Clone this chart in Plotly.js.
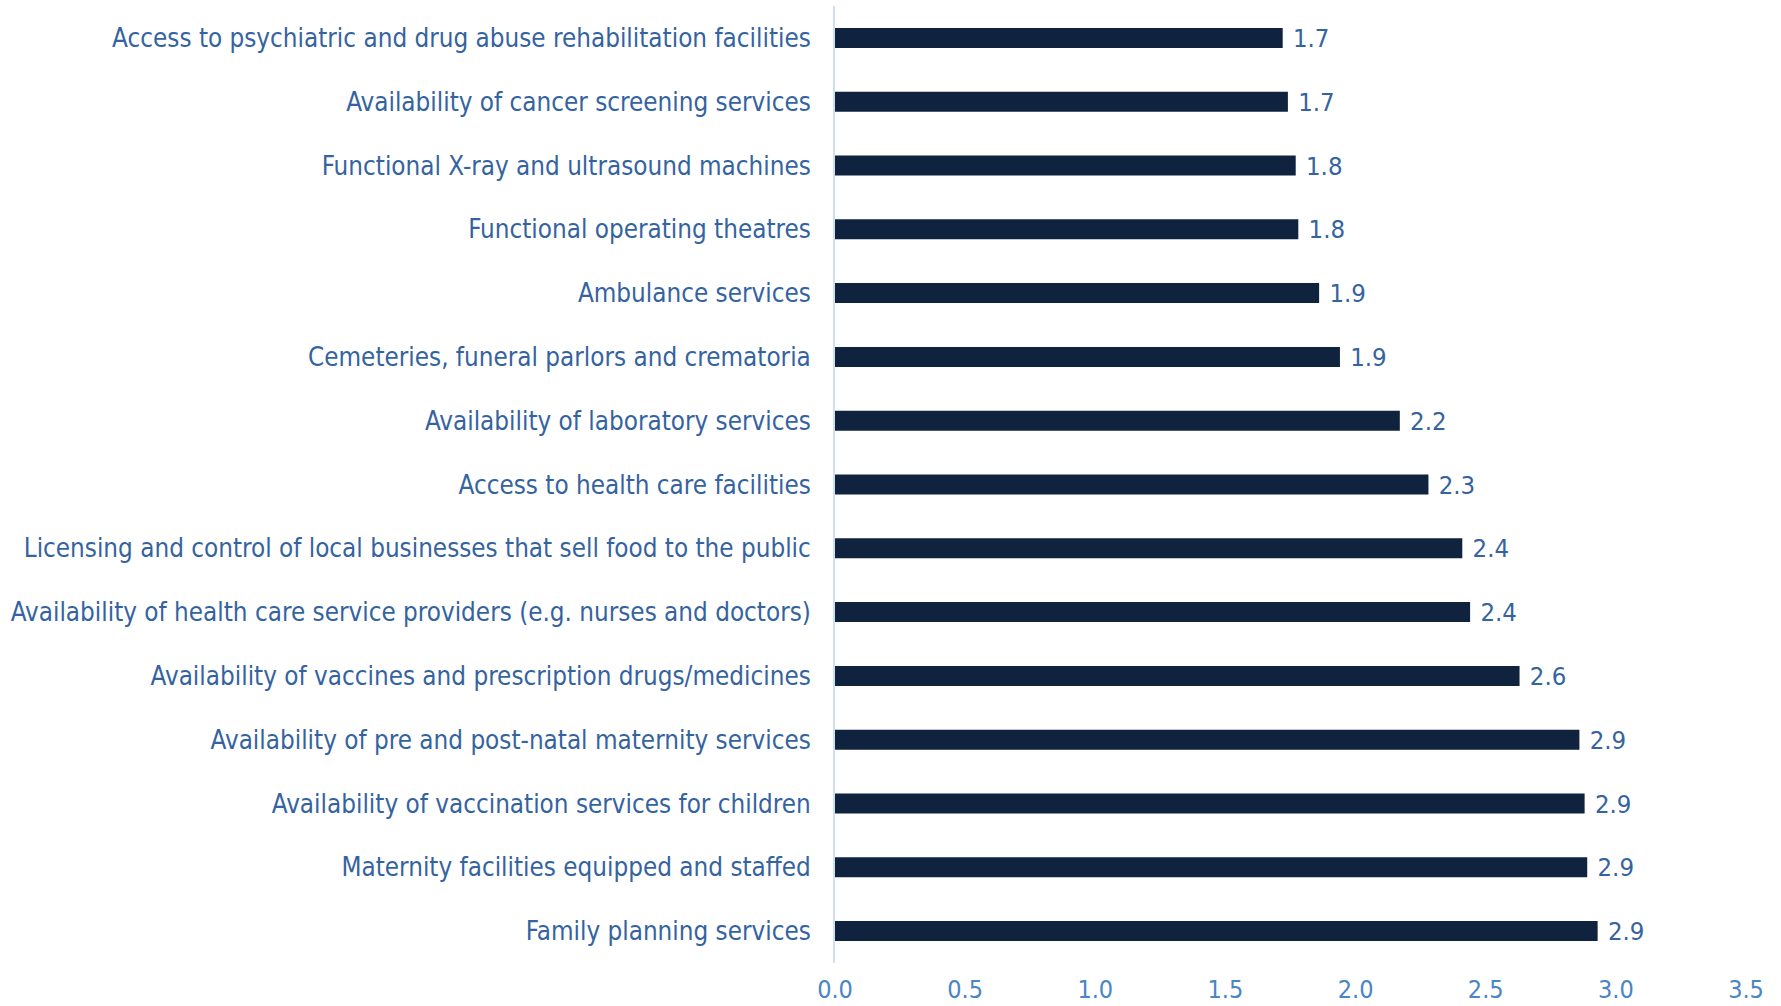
<!DOCTYPE html>
<html>
<head>
<meta charset="utf-8">
<script src="https://cdn.plot.ly/plotly-3.0.1.min.js"></script>
<style>
html,body{margin:0;padding:0;background:#fff;}
#chart{width:1781px;height:1006px;}
</style>
</head>
<body>
<div id="chart"></div>
<script>
// Categories listed top to bottom as in the reference
const categories = [
  "Access to psychiatric and drug abuse rehabilitation facilities",
  "Availability of cancer screening services",
  "Functional X-ray and ultrasound machines",
  "Functional operating theatres",
  "Ambulance services",
  "Cemeteries, funeral parlors and crematoria",
  "Availability of laboratory services",
  "Access to health care facilities",
  "Licensing and control of local businesses that sell food to the public",
  "Availability of health care service providers (e.g. nurses and doctors)",
  "Availability of vaccines and prescription drugs/medicines",
  "Availability of pre and post-natal maternity services",
  "Availability of vaccination services for children",
  "Maternity facilities equipped and staffed",
  "Family planning services"
];
const scores = [1.72, 1.74, 1.77, 1.78, 1.86, 1.94, 2.17, 2.28, 2.41, 2.44, 2.63, 2.86, 2.88, 2.89, 2.93];
const xTickValues = [0, 0.5, 1, 1.5, 2, 2.5, 3, 3.5];
const xTickLabels = ["0.0", "0.5", "1.0", "1.5", "2.0", "2.5", "3.0", "3.5"];

const FONT = "'DejaVu Sans Condensed', 'Liberation Sans Narrow', 'Open Sans', sans-serif";

const trace = {
  type: "bar",
  orientation: "h",
  y: categories,
  x: scores,
  marker: {color: "#0F233E", line: {color: "#0F233E", width: 0}},
  texttemplate: "\u00a0%{x:.1f}",
  textposition: "outside",
  constraintext: "none",
  cliponaxis: false,
  textfont: {family: FONT, size: 25.5, color: "#3563A0"},
  hoverinfo: "skip"
};

const layout = {
  width: 1781,
  height: 1006,
  margin: {l: 835, r: 35, t: 6, b: 43},
  paper_bgcolor: "#ffffff",
  plot_bgcolor: "#ffffff",
  showlegend: false,
  bargap: 0.686,
  xaxis: {
    range: [0, 3.5],
    tickvals: xTickValues,
    ticktext: xTickLabels,
    showgrid: false,
    zeroline: false,
    showline: false,
    ticks: "",
    ticklabelstandoff: 9,
    tickfont: {family: FONT, size: 25, color: "#4A85C6"},
    fixedrange: true
  },
  yaxis: {
    type: "category",
    categoryorder: "array",
    categoryarray: categories,
    autorange: "reversed",
    showgrid: false,
    zeroline: false,
    showline: true,
    linecolor: "#CFDFF2",
    linewidth: 2,
    ticks: "",
    ticklabelstandoff: 17,
    tickfont: {family: FONT, size: 25.8, color: "#3563A0"},
    fixedrange: true
  }
};

Plotly.newPlot("chart", [trace], layout, {displayModeBar: false, staticPlot: true});
</script>
</body>
</html>
